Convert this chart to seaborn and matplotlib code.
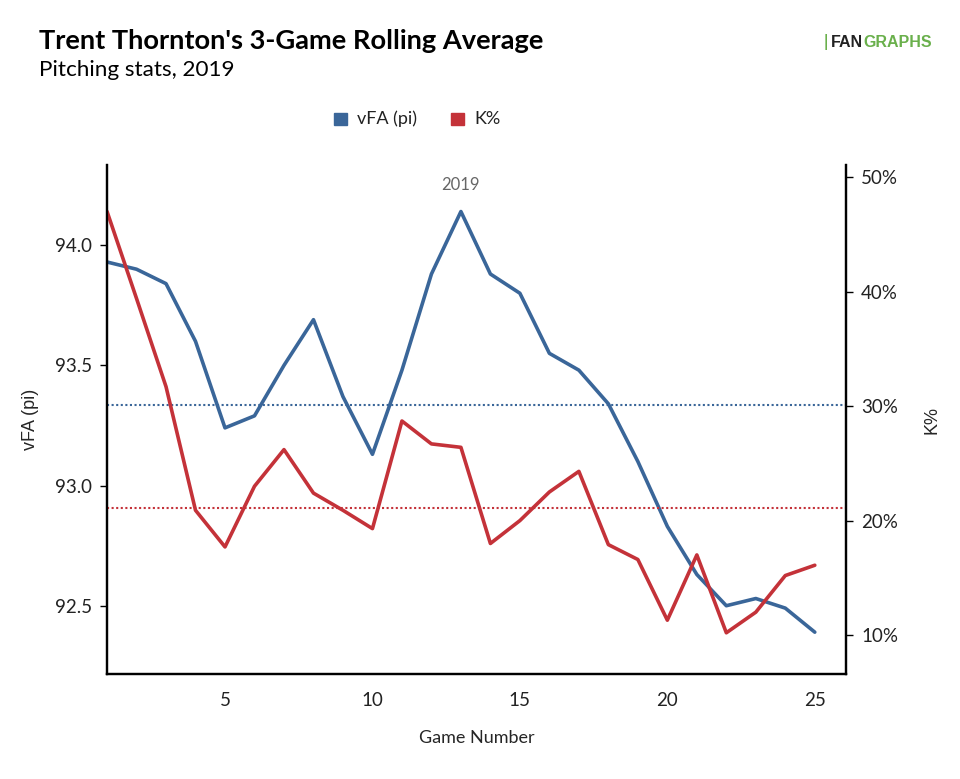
import matplotlib
matplotlib.use("Agg")
import matplotlib.pyplot as plt
from matplotlib.patches import Rectangle
from matplotlib.ticker import FuncFormatter
import numpy as np
import pandas as pd
import seaborn as sns

# ── Data ──────────────────────────────────────────────────────────────────────
games = list(range(1, 26))
vfa = [93.93, 93.90, 93.84, 93.60, 93.24, 93.29, 93.50, 93.69, 93.37, 93.13,
       93.48, 93.88, 94.14, 93.88, 93.80, 93.55, 93.48, 93.34, 93.10, 92.83,
       92.63, 92.50, 92.53, 92.49, 92.39]
k_pct = [47.0, 39.4, 31.7, 20.9, 17.7, 23.0, 26.2, 22.4, 20.9, 19.3,
         28.7, 26.7, 26.4, 18.0, 20.0, 22.5, 24.3, 17.9, 16.6, 11.3,
         17.0, 10.2, 12.0, 15.2, 16.1]
vfa_avg = 93.335
k_avg = 21.1
season_label = "2019"

BLUE = "#3a6699"
RED = "#c43239"

df = pd.DataFrame({"game": games, "vfa": vfa, "k": k_pct})

sns.set_theme(style="white")
plt.rcParams["font.family"] = ["Lato", "DejaVu Sans"]

fig = plt.figure(figsize=(9.6, 7.79), dpi=100)
ax = fig.add_axes([0.1115, 0.1348, 0.7695, 0.6532])
ax2 = ax.twinx()

sns.lineplot(data=df, x="game", y="vfa", ax=ax, color=BLUE, linewidth=2.6)
sns.lineplot(data=df, x="game", y="k", ax=ax2, color=RED, linewidth=2.6)

ax.axhline(vfa_avg, color=BLUE, linestyle=(0, (1, 1.2)), linewidth=1.5)
ax2.axhline(k_avg, color=RED, linestyle=(0, (1, 1.2)), linewidth=1.5)

ax.set_xlim(1, 26.05)
ax.set_ylim(92.216, 94.333)
ax2.set_ylim(6.6, 51.05)

ax.set_xticks([5, 10, 15, 20, 25])
ax.set_yticks([92.5, 93.0, 93.5, 94.0])
ax.yaxis.set_major_formatter(FuncFormatter(lambda v, p: f"{v:.1f}"))
ax2.set_yticks([10, 20, 30, 40, 50])
ax2.yaxis.set_major_formatter(FuncFormatter(lambda v, p: f"{v:.0f}%"))

for a in (ax, ax2):
    a.tick_params(axis="both", which="major", length=5, width=1, color="black",
                  labelsize=13.5, labelcolor="#222222", direction="out")
    a.spines["top"].set_visible(False)
    for s in ("left", "right", "bottom"):
        a.spines[s].set_color("black")
        a.spines[s].set_linewidth(1.6)
    a.grid(False)
ax.tick_params(axis="x", pad=8)
ax.tick_params(axis="y", pad=6)
ax2.tick_params(axis="y", pad=6)

ax.set_xlabel("Game Number", fontsize=13, labelpad=15)
ax.set_ylabel("vFA (pi)", fontsize=13, labelpad=11, family=["Liberation Sans", "DejaVu Sans"])
ax2.set_ylabel("K%", fontsize=13, labelpad=18, family=["Liberation Sans", "DejaVu Sans"])

ax.text(13, 94.25, season_label, ha="center", va="center", fontsize=12, color="#666666")

# Title block
fig.text(0.041, 0.948, "Trent Thornton's 3-Game Rolling Average", fontsize=19.6,
         fontweight="bold", ha="left", va="center", color="black")
fig.text(0.041, 0.910, "Pitching stats, 2019", fontsize=16.2, ha="left", va="center",
         color="black")

# Logo text
fan = fig.text(0.866, 0.946, "FAN", fontsize=11.5, fontweight="bold", ha="left",
               va="center", color="#222222", family=["Liberation Sans", "DejaVu Sans"])
ax.annotate("GRAPHS", xy=(1, 0.5), xycoords=fan, ha="left", va="center",
            fontsize=11.5, fontweight="bold", color="#6ab04c",
            family=["Liberation Sans", "DejaVu Sans"], annotation_clip=False)
fig.text(0.862, 0.946, "|", fontsize=12, fontweight="bold", ha="right", va="center",
         color="#6ab04c")

# Legend
fig.patches.append(Rectangle((0.348, 0.839), 0.0135, 0.0165, transform=fig.transFigure,
                             color=BLUE))
fig.text(0.372, 0.847, "vFA (pi)", fontsize=13, ha="left", va="center", color="#222222")
fig.patches.append(Rectangle((0.470, 0.839), 0.0135, 0.0165, transform=fig.transFigure,
                             color=RED))
fig.text(0.494, 0.847, "K%", fontsize=13, ha="left", va="center", color="#222222")

fig.savefig("out.png", dpi=100)
plt.close(fig)
